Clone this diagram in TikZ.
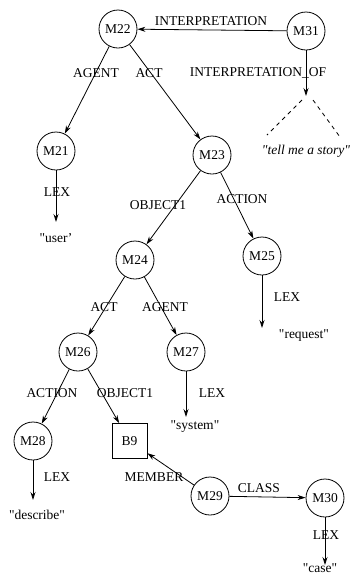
\documentclass[tikz,border=0pt]{standalone}
\usepackage{fontspec}
\setmainfont{Liberation Serif}
\usetikzlibrary{arrows.meta}
\newcommand{\qq}{\textquotedbl}
\begin{document}
\begin{tikzpicture}[x=1pt,y=-1pt,
  every node/.style={font=\fontsize{13.5}{15}\selectfont, inner sep=1pt},
  nd/.style={circle,draw,line width=0.8pt,minimum size=38pt,inner sep=0pt},
  bx/.style={rectangle,draw,line width=0.8pt,minimum size=35pt,inner sep=0pt},
  arr/.style={line width=0.8pt,-{Stealth[length=8pt,width=5pt]}},
  dsh/.style={line width=0.8pt,dash pattern=on 4pt off 4pt}]
\useasboundingbox (0,0) rectangle (351,574);
% nodes
\node[nd] (M22) at (118,29) {M22};
\node[nd] (M31) at (306,31) {M31};
\node[nd] (M21) at (56,151) {M21};
\node[nd] (M23) at (212,155) {M23};
\node[nd] (M24) at (135,260) {M24};
\node[nd] (M25) at (262,256) {M25};
\node[nd] (M26) at (78,352) {M26};
\node[nd] (M27) at (186,352) {M27};
\node[nd] (M28) at (33,441) {M28};
\node[bx] (B9) at (129.5,441) {B9};
\node[nd] (M29) at (210,496) {M29};
\node[nd] (M30) at (325,498) {M30};
% strings
\node (suser) at (56,238) {\qq user'};
\node (sreq) at (304,336) {\qq request\qq};
\node (ssys) at (195,427) {\qq system\qq};
\node (sdesc) at (37,515) {\qq describe\qq};
\node (scase) at (320,568) {\qq case\qq};
\node (sstory) at (306,151) {\itshape \qq tell me a story\qq};
% free ends
\coordinate (e21) at (56,222);
\coordinate (e25) at (262,328);
\coordinate (e27) at (186,417);
\coordinate (e28) at (33,500);
\coordinate (e30) at (325,565);
\coordinate (etop) at (306,96);
\coordinate (d1) at (302,100);
\coordinate (d2) at (267,135);
\coordinate (d3) at (313,100);
\coordinate (d4) at (340,137);
% edge labels
\node (lInt) at (211,21) {INTERPRETATION};
\node (lIntOf) at (258,73) {INTERPRETATION\_OF};
\node (lAg1) at (96,73) {AGENT};
\node (lAct1) at (149,73) {ACT};
\node (lLex21) at (57,192) {LEX};
\node (lObj1) at (158,205) {OBJECT1};
\node (lAction1) at (242,199) {ACTION};
\node (lLex25) at (287,297) {LEX};
\node (lAct2) at (104,307) {ACT};
\node (lAg2) at (165,307) {AGENT};
\node (lAction2) at (52,393) {ACTION};
\node (lObj2) at (125,393) {OBJECT1};
\node (lLex27) at (212,393) {LEX};
\node (lLex28) at (57,477) {LEX};
\node (lMem) at (154,477) {MEMBER};
\node (lClass) at (259,488) {CLASS};
\node (lLex30) at (326,535) {LEX};
% connectors
\draw[arr] (M31) -- (M22);
\draw[arr] (M31) -- (etop);
\draw[dsh] (d1) -- (d2);
\draw[dsh] (d3) -- (d4);
\draw[arr] (M22) -- (M21);
\draw[arr] (M22) -- (M23);
\draw[arr] (M21) -- (e21);
\draw[arr] (M23) -- (M24);
\draw[arr] (M23) -- (M25);
\draw[arr] (M25) -- (e25);
\draw[arr] (M24) -- (M26);
\draw[arr] (M24) -- (M27);
\draw[arr] (M27) -- (e27);
\draw[arr] (M26) -- (M28);
\draw[arr] (M26) -- (B9);
\draw[arr] (M28) -- (e28);
\draw[arr] (M29) -- (B9);
\draw[arr] (M29) -- (M30);
\draw[arr] (M30) -- (e30);
\end{tikzpicture}
\end{document}
